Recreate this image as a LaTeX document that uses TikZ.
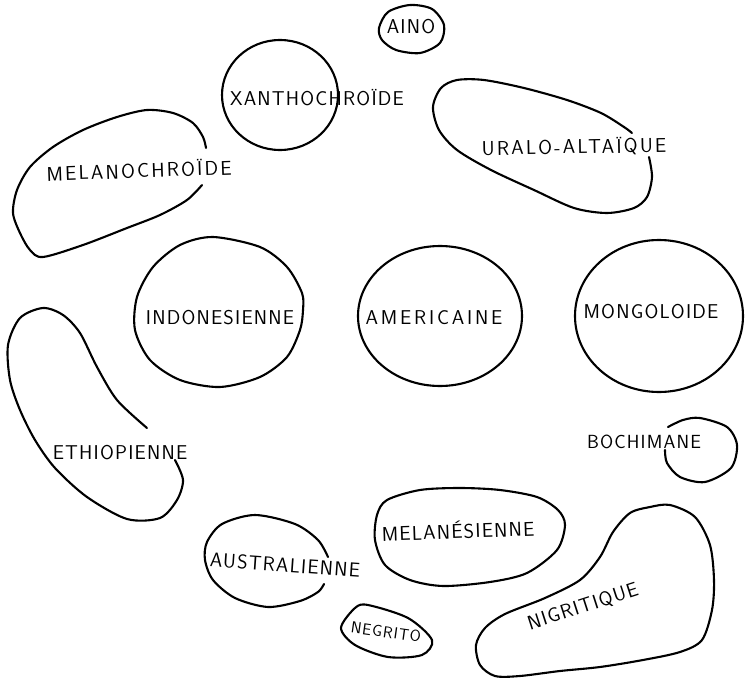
\documentclass[tikz,border=0pt]{standalone}
\usepackage{fontspec}
\setsansfont{Latin Modern Sans}
\usepackage{tikz}
\newcommand{\labfont}{\sffamily\fontsize{20}{24}\selectfont\addfontfeatures{LetterSpace=6}}

\begin{document}
\begin{tikzpicture}[x=1pt,y=-1pt,blob/.style={line width=2.1pt,line cap=round,line join=round},lab/.style={font=\labfont,inner sep=0pt},wide/.style={font=\labfont\addfontfeatures{LetterSpace=11}}]
\useasboundingbox (0,0) rectangle (748,680);
\draw[blob] plot[smooth cycle] coordinates {(379,28) (388,12) (410,5) (432,9) (444,25) (440,43) (420,53) (396,50) (382,40)};
\node[lab] (aino) at (411,27) {AINO};
\draw[blob] (280,95) ellipse [x radius=58, y radius=55];
\node[lab] (xantho) at (317,98) {XANTHOCHROÏDE};
\draw[blob] plot[smooth] coordinates {(202,185) (187,200) (160,215) (127,228) (83,245) (43,257) (30,250) (20,233) (13,213) (17,190) (30,167) (53,147) (83,130) (117,117) (147,110) (173,113) (193,123) (203,137) (206,148)};
\node[lab,wide,rotate=2] (melano) at (139,170) {MELANOCHROÏDE};
\draw[blob] plot[smooth] coordinates {(649,157) (652,177) (647,197) (634,208) (607,213) (574,208) (534,190) (491,170) (457,150) (439,130) (433,107) (441,88) (457,80) (484,80) (524,88) (567,100) (601,113) (624,127) (632,133)};
\node[lab,wide,rotate=1] (uralo) at (574,147) {URALO-ALTAÏQUE};
\draw[blob] plot[smooth cycle] coordinates {(213,237) (260,247) (287,267) (302,293) (303,310) (300,330) (287,357) (260,377) (220,387) (180,380) (150,360) (135,330) (137,297) (153,267) (180,245)};
\node[lab] (indo) at (220,318) {INDONESIENNE};
\draw[blob] (440,316) ellipse [x radius=82, y radius=70];
\node[lab,font=\labfont\addfontfeatures{LetterSpace=14}] (ameri) at (434,318) {AMERICAINE};
\draw[blob] (659,316) ellipse [x radius=84, y radius=76];
\node[lab] (mongo) at (651,312) {MONGOLOIDE};
\draw[blob] plot[smooth] coordinates {(147,428) (117,400) (97,367) (80,333) (63,315) (43,308) (20,318) (8,345) (10,380) (20,410) (35,440) (55,468) (87,497) (127,519) (160,518) (177,500) (183,480) (175,460)};
\node[lab] (ethio) at (120,453) {ETHIOPIENNE};
\draw[blob] plot[smooth] coordinates {(668,427) (683,420) (700,418) (727,427) (737,445) (731,468) (705,482) (680,477) (667,463) (665,450)};
\node[lab,font=\labfont\fontsize{19}{22}\selectfont] (bochi) at (644,442) {BOCHIMANE};
\draw[blob] plot[smooth cycle] coordinates {(387,500) (420,490) (460,488) (500,490) (537,497) (558,510) (565,525) (557,550) (527,573) (490,582) (443,586) (410,580) (385,565) (375,540) (377,515)};
\node[lab,rotate=2] (melane) at (458,530) {MELANÉSIENNE};
\draw[blob] plot[smooth] coordinates {(328,557) (318,540) (295,524) (255,515) (222,524) (207,542) (205,560) (213,580) (235,598) (268,607) (300,601) (318,592) (324,584)};
\node[lab,rotate=-4] (austra) at (285,565) {AUSTRALIENNE};
\draw[blob] plot[smooth cycle] coordinates {(341,628) (355,608) (368,605) (408,618) (432,640) (422,655) (388,657) (355,645)};
\node[lab,rotate=-8,font=\labfont\fontsize{16}{20}\selectfont] (negri) at (386,632) {NEGRITO};
\draw[blob] plot[smooth cycle] coordinates {(650,507) (670,505) (695,517) (710,545) (714,580) (712,610) (702,640) (680,652) (643,660) (600,667) (560,671) (520,676) (495,676) (480,665) (476,645) (485,628) (505,614) (545,598) (580,580) (600,557) (613,532) (630,513)};
\node[lab,rotate=18] (nigri) at (583,607) {NIGRITIQUE};
\end{tikzpicture}
\end{document}
